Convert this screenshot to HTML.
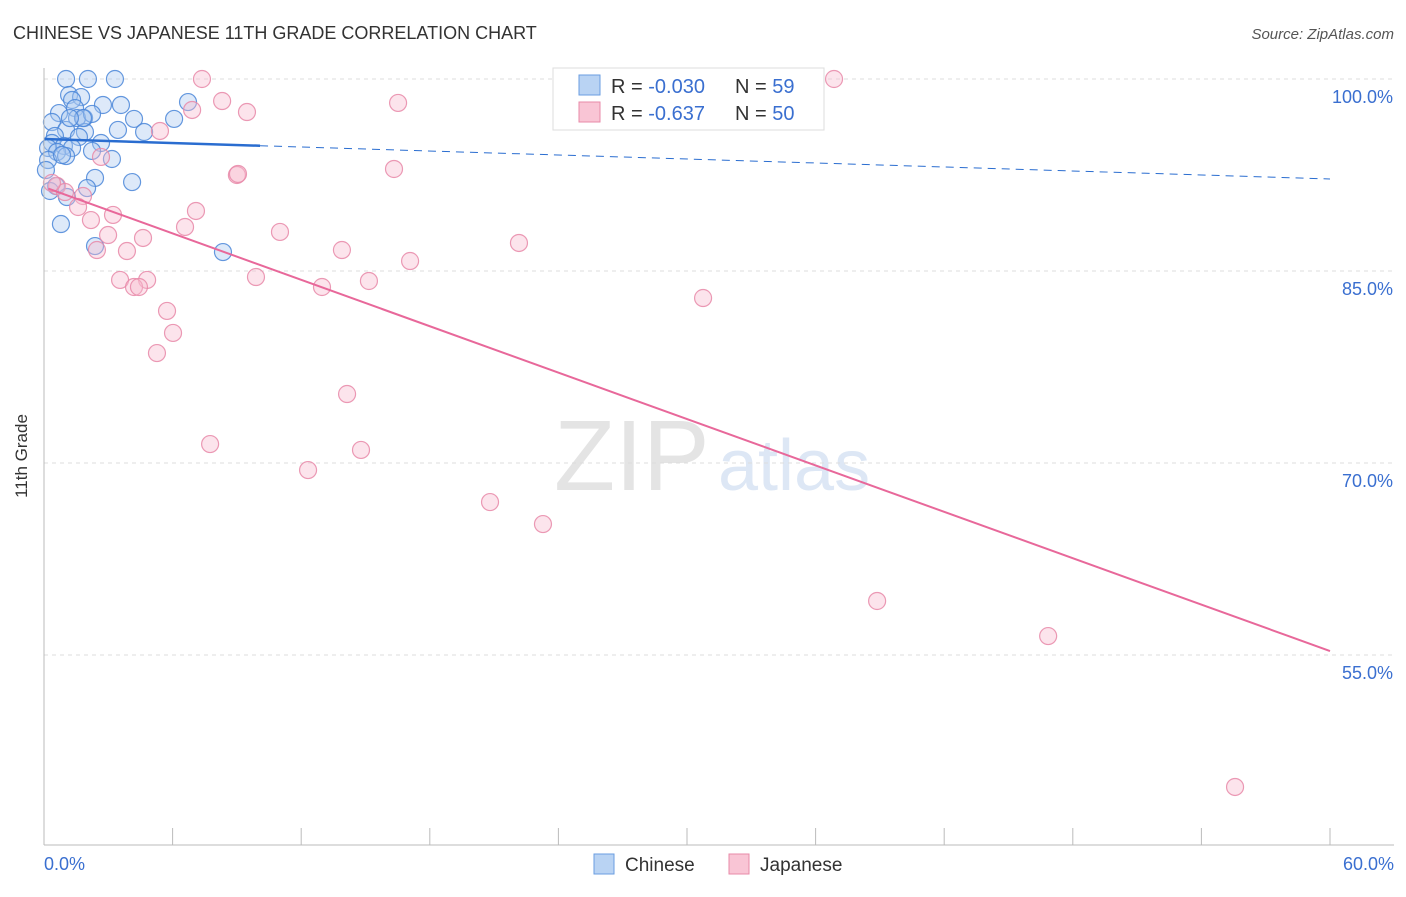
<!DOCTYPE html>
<html><head><meta charset="utf-8"><style>
body{margin:0;background:#fff;font-family:"Liberation Sans",sans-serif;}
svg text{font-family:"Liberation Sans",sans-serif;}
</style></head><body>
<svg id="chart" width="1406" height="892">
<text x="13" y="39" font-size="18" fill="#333">CHINESE VS JAPANESE 11TH GRADE CORRELATION CHART</text>
<text x="1394" y="39" font-size="15" fill="#555" font-style="italic" text-anchor="end">Source: ZipAtlas.com</text>
<text x="27" y="456" font-size="17" fill="#333" text-anchor="middle" transform="rotate(-90 27 456)">11th Grade</text>
<text x="554" y="490" font-size="100" fill="#e4e4e4" font-family="Liberation Serif">ZIP</text>
<text x="718" y="490" font-size="72" fill="#dde7f5">atlas</text>
<g id="grid"></g><g id="ticks"></g><g id="pts"></g><g id="lines"></g>
<line x1="44" y1="68" x2="44" y2="845" stroke="#bbb"/>
<line x1="44" y1="845" x2="1394" y2="845" stroke="#bbb"/>
<text x="44" y="870" font-size="18" fill="#3a6fd0">0.0%</text>
<text x="1394" y="870" font-size="18" fill="#3a6fd0" text-anchor="end">60.0%</text>
<g>
<rect x="553" y="68" width="271" height="62" fill="#fff" stroke="#ddd"/>
<rect x="579" y="75" width="21" height="20" fill="#b9d3f3" stroke="#6a9ee0"/>
<rect x="579" y="102" width="21" height="20" fill="#f9c5d5" stroke="#e88aa8"/>
<text x="611" y="93" font-size="20" fill="#333">R = <tspan fill="#3a6fd0">-0.030</tspan></text>
<text x="735" y="93" font-size="20" fill="#333">N = <tspan fill="#3a6fd0"> 59</tspan></text>
<text x="611" y="120" font-size="20" fill="#333">R = <tspan fill="#3a6fd0"> -0.637</tspan></text>
<text x="735" y="120" font-size="20" fill="#333">N = <tspan fill="#3a6fd0">50</tspan></text>
</g>
<g><rect x="594" y="854" width="20" height="20" fill="#b9d3f3" stroke="#6a9ee0"/><text x="625" y="871" font-size="19" fill="#333">Chinese</text></g>
<g><rect x="729" y="854" width="20" height="20" fill="#f9c5d5" stroke="#e88aa8"/><text x="760" y="871" font-size="19" fill="#333">Japanese</text></g>
</svg>
<script>
const yTicks=[100,85,70,55];
const xTickVals=[0,6,12,18,24,30,36,42,48,54,60];
const chineseX=[1.03,2.05,3.31,1.17,1.73,1.31,2.75,3.59,6.72,0.70,1.45,1.87,1.54,2.24,4.20,6.07,0.37,1.03,1.91,3.45,4.67,1.63,0.51,2.66,0.37,0.93,1.31,2.24,0.19,0.61,1.03,3.17,0.19,2.38,4.11,0.56,2.01,0.28,1.07,0.79,2.38,8.35,1.82,1.21,0.84,0.09];
const chineseY=[100,100,100,98.75,98.59,98.36,97.97,97.97,98.2,97.34,97.73,96.95,96.95,97.27,96.88,96.88,96.64,96.02,95.86,96.02,95.86,95.47,95.55,95.0,95.0,94.77,94.61,94.38,94.61,94.3,93.98,93.75,93.67,92.27,91.95,91.64,91.48,91.25,90.78,88.67,86.95,86.48,96.95,96.95,94.06,92.89];
const japaneseX=[7.37,36.86,8.31,16.52,6.91,9.47,5.41,2.66,9.0,16.33,0.61,0.98,1.82,1.59,7.09,3.22,2.19,6.58,11.01,2.99,4.62,22.16,13.9,2.47,3.87,17.08,9.89,3.55,4.81,15.16,4.2,4.43,12.97,30.75,5.74,6.02,5.27,14.14,7.75,14.79,12.32,20.81,23.28,38.87,46.85,55.57,0.37,9.05];
const japaneseY=[100,100,98.28,98.13,97.58,97.42,95.94,93.91,92.5,92.97,91.64,91.17,90.86,90.0,89.69,89.38,88.98,88.44,88.05,87.81,87.58,87.19,86.64,86.64,86.56,85.78,84.53,84.3,84.3,84.22,83.75,83.75,83.75,82.89,81.88,80.16,78.59,75.39,71.48,71.02,69.45,66.95,65.23,59.22,56.48,44.69,91.88,92.58];
const chineseTrend=[95.31,92.19];
const japaneseTrend=[91.56,55.31];
const NS='http://www.w3.org/2000/svg';
const X=v=>44+v/60*1286;
const Y=v=>79+(100-v)/15*192;
function mk(tag,attrs,parent){const e=document.createElementNS(NS,tag);for(const k in attrs)e.setAttribute(k,attrs[k]);document.getElementById(parent).appendChild(e);return e;}
yTicks.forEach(t=>{
 const l=mk('line',{x1:44,x2:1394,y1:Y(t),y2:Y(t),stroke:'#ddd','stroke-dasharray':'4,4'},'grid');
 
 
 const tx=mk('text',{x:1393,y:Y(t)+24,'font-size':18,fill:'#3a6fd0','text-anchor':'end'},'grid');
 tx.textContent=t.toFixed(1)+'%';
 
 
});
xTickVals.forEach(t=>{
 const l=mk('line',{x1:X(t),x2:X(t),y1:828,y2:845,stroke:'#bbb'},'ticks');
 
 
});
function pts(xs,ys,fill,stroke,name){xs.forEach((x,i)=>{
 const c=mk('circle',{cx:X(x),cy:Y(ys[i]),r:8.5,fill:fill,'fill-opacity':0.4,stroke:stroke,'stroke-width':1.2,'stroke-opacity':0.85},'pts');
 
 
});}
pts(chineseX,chineseY,'#a9c8f0','#4a86d8','chinese-point');
pts(japaneseX,japaneseY,'#f7bcd0','#e888a8','japanese-point');
const b1=mk('line',{x1:X(0),y1:Y(chineseTrend[0]),x2:X(10.08),y2:Y(chineseTrend[0]+(chineseTrend[1]-chineseTrend[0])*10.08/60),stroke:'#2a6dd0','stroke-width':2.5},'lines');


const b2=mk('line',{x1:X(10.08),y1:Y(chineseTrend[0]+(chineseTrend[1]-chineseTrend[0])*10.08/60),x2:X(60),y2:Y(chineseTrend[1]),stroke:'#2a6dd0','stroke-width':1,'stroke-dasharray':'8,6'},'lines');


const p1=mk('line',{x1:X(0.2),y1:Y(japaneseTrend[0]+(japaneseTrend[1]-japaneseTrend[0])*0.2/60),x2:X(60),y2:Y(japaneseTrend[1]),stroke:'#e8689a','stroke-width':2},'lines');


</script>
</body></html>
